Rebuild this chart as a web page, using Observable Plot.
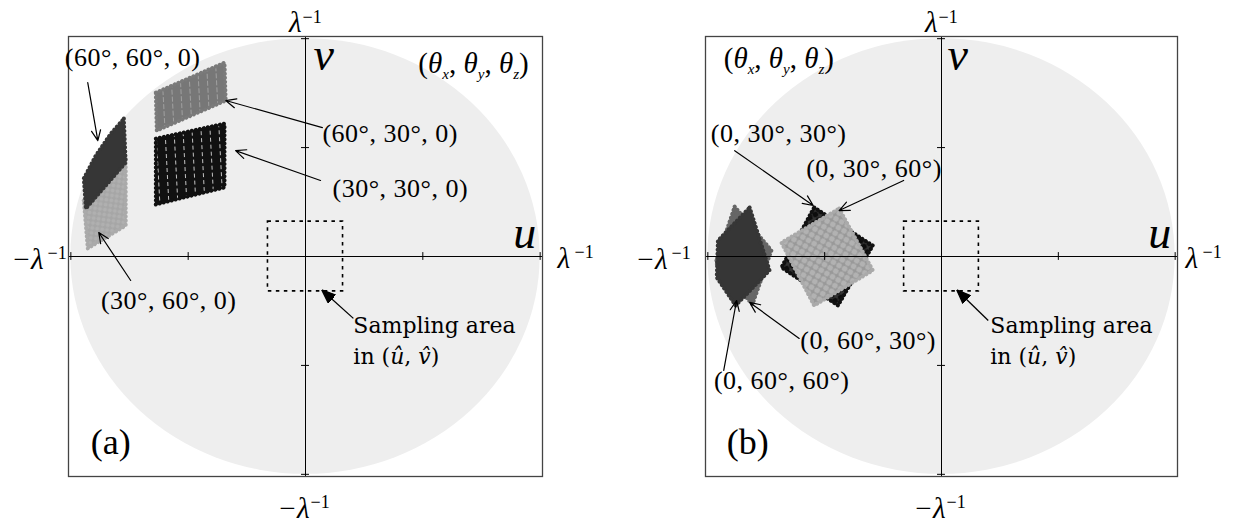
<!DOCTYPE html>
<html>
<head>
<meta charset="utf-8">
<script src="https://cdn.jsdelivr.net/npm/d3@7"></script>
<script src="https://cdn.jsdelivr.net/npm/@observablehq/plot@0.6"></script>
<style>
  html, body { margin: 0; padding: 0; background: #fff; }
  #figure { position: relative; width: 1238px; height: 522px; overflow: hidden; }
  #figure svg.panel { position: absolute; top: 0; overflow: visible; }
  #figure g[aria-description="angle-labels"] { letter-spacing: 0.5px; }
</style>
</head>
<body>
<!-- dotted textures of the sampled footprints -->
<svg width="0" height="0" style="position:absolute">
  <defs>
    <pattern id="texBlack" width="9" height="7" patternUnits="userSpaceOnUse" patternTransform="rotate(-3)">
      <rect width="9" height="7" fill="#111"/>
      <rect x="4" y="1" width="1" height="4" fill="#fff" opacity="0.75"/>
    </pattern>
    <pattern id="texMedium" width="9" height="7" patternUnits="userSpaceOnUse" patternTransform="rotate(-3)">
      <rect width="9" height="7" fill="#777"/>
      <rect x="4" y="0" width="1" height="5" fill="#aaa" opacity="0.8"/>
    </pattern>
    <pattern id="texLight" width="5" height="5" patternUnits="userSpaceOnUse" patternTransform="rotate(8)">
      <rect width="5" height="5" fill="#a6a6a6"/>
      <circle cx="2.5" cy="2.5" r="2" fill="#b0b0b0"/>
    </pattern>
    <pattern id="texLightSquare" width="6.5" height="6.5" patternUnits="userSpaceOnUse" patternTransform="rotate(30)">
      <rect width="6.5" height="6.5" fill="#999"/>
      <circle cx="3.25" cy="3.25" r="2.8" fill="#b2b2b2"/>
    </pattern>
    <pattern id="texBlackSquare" width="6.5" height="6.5" patternUnits="userSpaceOnUse" patternTransform="rotate(-30)">
      <rect width="6.5" height="6.5" fill="#333"/>
      <circle cx="3.25" cy="3.25" r="2.8" fill="#0d0d0d"/>
    </pattern>
  </defs>
</svg>
<div id="figure"></div>
<script>
// (u, v) plane normalised by λ⁻¹: the visible region is the unit disk.
const visibleRadius = 1;
const axisDomain = [-1.01, 1.01];
const axisTicks = [-1, -0.5, 0.5, 1];
const samplingHalf = 0.16;

// Footprints of the sampled (û, v̂) grid after rotation, panel (a): rotations about x and y.
const patch60_30_0 = [[-0.638, 0.752], [-0.345, 0.890], [-0.340, 0.716], [-0.634, 0.578]];
const patch30_30_0 = [[-0.638, 0.541], [-0.345, 0.610], [-0.345, 0.317], [-0.638, 0.239]];
const patch30_60_0 = [[-0.945, 0.257], [-0.766, 0.454], [-0.766, 0.142], [-0.928, 0.037]];
const patch60_60_0 = [[-0.774, 0.633], [-0.766, 0.431], [-0.936, 0.220], [-0.945, 0.358],
                      [-0.894, 0.463], [-0.830, 0.564]];

// Panel (b): rotations about y and z.
const patch0_60_30 = [[-0.885, 0.229], [-0.728, 0.028], [-0.809, -0.220], [-0.966, -0.028]];
const patch0_60_60 = [[-0.821, 0.225], [-0.736, -0.064], [-0.881, -0.225], [-0.962, -0.096], [-0.957, 0.073]];
const patch0_30_30 = [[-0.545, 0.225], [-0.294, 0.050], [-0.443, -0.225], [-0.685, -0.050]];
const patch0_30_60 = [[-0.438, 0.220], [-0.294, -0.064], [-0.545, -0.225], [-0.685, 0.064]];

// Angle labels and the arrows pointing at their footprints.
const labelsA = [
  {text: "(60°, 60°, 0)", u: -1.026, v: 0.913},
  {text: "(60°, 30°, 0)", u: 0.072, v: 0.564},
  {text: "(30°, 30°, 0)", u: 0.115, v: 0.312},
  {text: "(30°, 60°, 0)", u: -0.872, v: -0.202}
];
const arrowsA = [
  {u1: -0.928, v1: 0.798, u2: -0.885, v2: 0.532},
  {u1: 0.072, v1: 0.592, u2: -0.340, v2: 0.716},
  {u1: 0.064, v1: 0.349, u2: -0.298, v2: 0.486},
  {u1: -0.745, v1: -0.110, u2: -0.881, v2: 0.110}
];
const labelsB = [
  {text: "(0, 30°, 30°)", u: -0.987, v: 0.564},
  {text: "(0, 30°, 60°)", u: -0.579, v: 0.404},
  {text: "(0, 60°, 30°)", u: -0.604, v: -0.385},
  {text: "(0, 60°, 60°)", u: -0.974, v: -0.569}
];
const arrowsB = [
  {u1: -0.885, v1: 0.486, u2: -0.549, v2: 0.234},
  {u1: -0.162, v1: 0.349, u2: -0.438, v2: 0.211},
  {u1: -0.609, v1: -0.376, u2: -0.821, v2: -0.211},
  {u1: -0.932, v1: -0.523, u2: -0.877, v2: -0.202}
];

const samplingArea = {u1: -samplingHalf, u2: samplingHalf, v1: -samplingHalf, v2: samplingHalf};

const serif = "Liberation Serif, Times New Roman, serif";
const wideSerif = "DejaVu Serif, serif";

// Filled triangular arrow head for the sampling-area pointer.
function filledHead(color, context) {
  const ns = "http://www.w3.org/2000/svg";
  const m = context.document.createElementNS(ns, "marker");
  m.setAttribute("viewBox", "-7 -6 14 12");
  m.setAttribute("markerWidth", 14);
  m.setAttribute("markerHeight", 12);
  m.setAttribute("markerUnits", "userSpaceOnUse");
  m.setAttribute("refX", 6);
  m.setAttribute("orient", "auto");
  const p = context.document.createElementNS(ns, "path");
  p.setAttribute("d", "M-7,-5.5L7,0L-7,5.5Z");
  p.setAttribute("fill", color);
  m.appendChild(p);
  return m;
}

// Light grey disk |(u, v)| ≤ 1, drawn through the x and y scales.
function visibleDisk(index, {x, y}, values, dims, context) {
  const e = context.document.createElementNS("http://www.w3.org/2000/svg", "ellipse");
  e.setAttribute("cx", x(0));
  e.setAttribute("cy", y(0));
  e.setAttribute("rx", x(visibleRadius) - x(0));
  e.setAttribute("ry", y(0) - y(visibleRadius));
  e.setAttribute("fill", "#eeeeee");
  return e;
}

const thetaMarkup =
  '(<tspan font-style="italic">θ</tspan><tspan font-style="italic" font-size="15" dy="6">x</tspan>' +
  '<tspan dy="-6">, </tspan><tspan font-style="italic">θ</tspan><tspan font-style="italic" font-size="15" dy="6">y</tspan>' +
  '<tspan dy="-6">, </tspan><tspan font-style="italic">θ</tspan><tspan font-style="italic" font-size="15" dy="6">z</tspan>' +
  '<tspan dy="-6">)</tspan>';
const richText = new Map([
  ["(θx, θy, θz)", thetaMarkup],
  ["in (û, v̂)", 'in (<tspan font-style="italic">û</tspan>, <tspan font-style="italic">v̂</tspan>)']
]);

// A footprint: textured fill with a beaded outline like the dotted samples.
function patchMark(vertices, fill, edge) {
  return [
    Plot.line(vertices, {
      x: d => d[0], y: d => d[1], curve: "linear-closed",
      fill, stroke: edge, strokeWidth: 1.5, strokeLinejoin: "round"
    }),
    Plot.line(vertices, {
      x: d => d[0], y: d => d[1], curve: "linear-closed",
      fill: "none", stroke: edge, strokeWidth: 4, strokeLinecap: "round", strokeDasharray: "0.1,4"
    })
  ];
}

function outerLabel(anchor, main, o) {
  return [
    Plot.text([main], {frameAnchor: anchor, dx: o.mx, dy: o.my, textAnchor: o.ma, lineAnchor: "bottom",
      fontFamily: serif, fontSize: 29, fontStyle: "italic", fill: "black"}),
    Plot.text(["−1"], {frameAnchor: anchor, dx: o.sx, dy: o.sy, textAnchor: "start", lineAnchor: "bottom",
      fontFamily: serif, fontSize: 18, fill: "black"})
  ];
}

function panel(cfg) {
  const marks = [
    visibleDisk,
    ...cfg.patches.flatMap(([v, f, e]) => patchMark(v, f, e)),
    Plot.ruleX([0], {stroke: "black", strokeWidth: 1}),
    Plot.ruleY([0], {stroke: "black", strokeWidth: 1}),
    Plot.ruleX(axisTicks, {x: d => d, y1: -0.018, y2: 0.018, stroke: "black", strokeWidth: 1}),
    Plot.ruleY(axisTicks, {y: d => d, x1: -0.017, x2: 0.017, stroke: "black", strokeWidth: 1}),
    Plot.rect([samplingArea], {x1: "u1", x2: "u2", y1: "v1", y2: "v2", fill: "none",
      stroke: "black", strokeWidth: 1.6, strokeDasharray: "3.5,4.5"}),
    Plot.frame({stroke: "#444", strokeWidth: 1.3}),
    Plot.arrow(cfg.arrows, {x1: "u1", y1: "v1", x2: "u2", y2: "v2", stroke: "black",
      strokeWidth: 1.2, headLength: 14, headAngle: 48}),
    Plot.link([cfg.samplingArrow], {x1: "u1", y1: "v1", x2: "u2", y2: "v2", stroke: "black",
      strokeWidth: 1.3, markerEnd: filledHead}),
    Plot.text(cfg.labels, {x: "u", y: "v", text: "text", textAnchor: "start", lineAnchor: "middle",
      fontFamily: serif, fontSize: 26, fill: "black", ariaDescription: "angle-labels"}),
    Plot.text(["(θx, θy, θz)"], {x: cfg.thetaAt[0], y: cfg.thetaAt[1], textAnchor: "start", lineAnchor: "middle",
      fontFamily: serif, fontSize: 29, fill: "black"}),
    Plot.text(["v"], {x: cfg.vAt[0], y: cfg.vAt[1], textAnchor: "start", lineAnchor: "bottom",
      fontFamily: serif, fontSize: 46, fontStyle: "italic", fill: "black"}),
    Plot.text(["u"], {x: cfg.uAt[0], y: cfg.uAt[1], textAnchor: "start", lineAnchor: "bottom",
      fontFamily: serif, fontSize: 46, fontStyle: "italic", fill: "black"}),
    Plot.text(["Sampling area", "in (û, v̂)"], {x: cfg.samplingText[0], y: (d, i) => cfg.samplingText[1] - i * 0.146,
      textAnchor: "start", lineAnchor: "middle", fontFamily: wideSerif, fontSize: 22, fill: "black"}),
    Plot.text([cfg.letter], {x: cfg.letterAt[0], y: cfg.letterAt[1], textAnchor: "start", lineAnchor: "middle",
      fontFamily: serif, fontSize: 36, fill: "black"}),
    ...outerLabel("top", "λ", {mx: -4, my: -5, ma: "end", sx: -3, sy: -14}),
    ...outerLabel("bottom", "−λ", {mx: 4, my: 41, ma: "end", sx: 5, sy: 31}),
    ...outerLabel("left", "−λ", cfg.leftLabel),
    ...outerLabel("right", "λ", cfg.rightLabel)
  ];
  const svg = Plot.plot({
    width: cfg.width, height: 522,
    marginLeft: cfg.marginLeft, marginRight: cfg.marginRight, marginTop: 36, marginBottom: 46,
    x: {domain: axisDomain, axis: null},
    y: {domain: axisDomain, axis: null},
    style: {background: "transparent", overflow: "visible"},
    marks
  });
  d3.select(svg).selectAll("text").each(function () {
    const markup = richText.get(this.textContent);
    if (markup) this.innerHTML = markup;
  });
  svg.classList.add("panel");
  svg.style.left = cfg.left + "px";
  return svg;
}

const fig = document.getElementById("figure");

fig.appendChild(panel({
  left: 0, width: 620, marginLeft: 68, marginRight: 78,
  patches: [
    [patch60_30_0, "url(#texMedium)", "#7a7a7a"],
    [patch30_30_0, "url(#texBlack)", "#111111"],
    [patch30_60_0, "url(#texLight)", "#aaaaaa"],
    [patch60_60_0, "#363636", "#363636"]
  ],
  labels: labelsA, arrows: arrowsA,
  samplingArrow: {u1: 0.204, v1: -0.284, u2: 0.072, v2: -0.156},
  samplingText: [0.204, -0.317],
  thetaAt: [0.481, 0.885], vAt: [0.034, 0.858], uAt: [0.885, 0.037],
  letter: "(a)", letterAt: [-0.915, -0.853],
  leftLabel: {mx: -25, my: 12, ma: "end", sx: -21, sy: 2},
  rightLabel: {mx: 15, my: 11, ma: "start", sx: 32, sy: 1}
}));

fig.appendChild(panel({
  left: 620, width: 618, marginLeft: 85, marginRight: 61,
  patches: [
    [patch0_60_30, "#666666", "#666666"],
    [patch0_60_60, "#363636", "#363636"],
    [patch0_30_30, "url(#texBlackSquare)", "#111111"],
    [patch0_30_60, "url(#texLightSquare)", "#aaaaaa"]
  ],
  labels: labelsB, arrows: arrowsB,
  samplingArrow: {u1: 0.200, v1: -0.294, u2: 0.068, v2: -0.156},
  samplingText: [0.209, -0.317],
  thetaAt: [-0.932, 0.908], vAt: [0.026, 0.858], uAt: [0.885, 0.037],
  letter: "(b)", letterAt: [-0.919, -0.853],
  leftLabel: {mx: -38, my: 12, ma: "end", sx: -34, sy: 2},
  rightLabel: {mx: 8, my: 11, ma: "start", sx: 25, sy: 1}
}));
</script>
</body>
</html>
